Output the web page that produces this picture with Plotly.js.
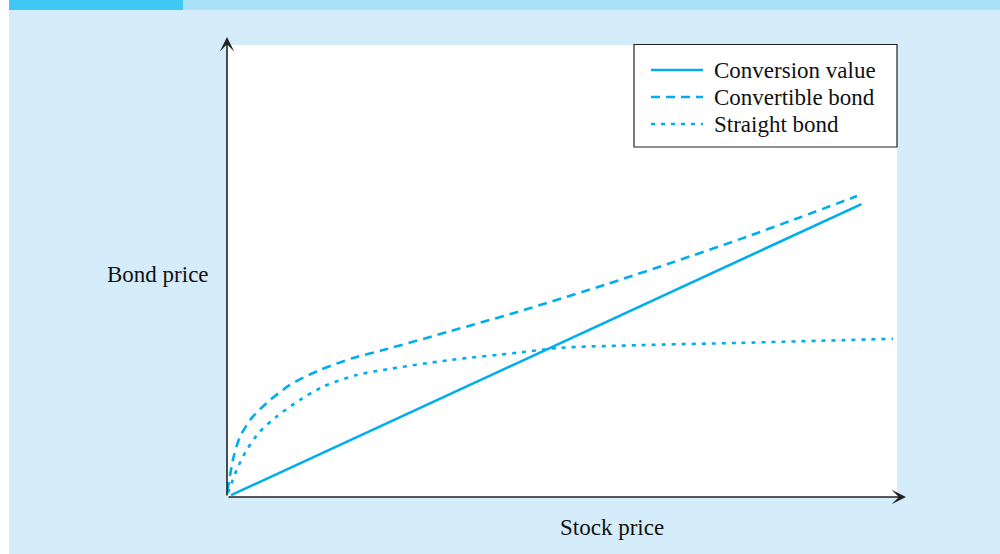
<!DOCTYPE html>
<html>
<head>
<meta charset="utf-8">
<script src="https://cdn.plot.ly/plotly-3.0.1.min.js"></script>
<style>
  html, body { margin: 0; padding: 0; background: #ffffff; }
  #chart { width: 1000px; height: 554px; }
</style>
</head>
<body>
<div id="chart"></div>
<script>
// Stock price (x) and bond price (y), arbitrary units 0-100
const conversionX = [0.6, 94.7];
const conversionY = [0.4, 64.8];

const convertibleX = [0.07, 0.94, 1.94, 3.69, 5.93, 9.40, 13.88, 18.81, 23.28, 33.28, 43.24, 46.72, 56.67, 66.57, 76.57, 85.52, 94.03];
const convertibleY = [1.3, 8.6, 13.3, 17.5, 20.8, 24.8, 28.1, 30.75, 32.5, 36.66, 40.88, 42.46, 47.08, 51.95, 57.05, 61.86, 66.59];

const straightX = [0.15, 1.45, 2.94, 4.93, 7.42, 10.90, 14.33, 19.36, 23.28, 33.28, 43.24, 49.70, 61.64, 76.57, 99.40];
const straightY = [0.9, 6.0, 10.4, 14.5, 17.8, 21.5, 24.4, 27.0, 28.1, 30.3, 31.9, 33.0, 33.6, 34.1, 35.0];

const seriesNames = ['Conversion value', 'Convertible bond', 'Straight bond'];
const xLabel = 'Stock price';
const yLabel = 'Bond price';

const lineColor = '#00aeef';
const serif = 'Liberation Serif, Times New Roman, serif';

const traces = [
  { x: conversionX, y: conversionY, name: seriesNames[0], mode: 'lines',
    line: { color: lineColor, width: 2.6 } },
  { x: convertibleX, y: convertibleY, name: seriesNames[1], mode: 'lines',
    line: { color: lineColor, width: 2.6, dash: '9px,6px', shape: 'spline', smoothing: 0.8 } },
  { x: straightX, y: straightY, name: seriesNames[2], mode: 'lines',
    line: { color: lineColor, width: 2.6, dash: '4px,6px', shape: 'spline', smoothing: 0.8 } }
];

// pixel -> paper helpers (plot area 227..897 x 45..497)
const px = p => (p - 227) / 670;
const py = p => (497 - p) / 452;

const shapes = [
  // white left strip
  { type: 'rect', xref: 'paper', yref: 'paper', x0: px(0), x1: px(9), y0: py(560), y1: py(-5),
    fillcolor: '#ffffff', line: { width: 0 }, layer: 'below' },
  // top light band
  { type: 'rect', xref: 'paper', yref: 'paper', x0: px(183), x1: px(1005), y0: py(10), y1: py(-5),
    fillcolor: '#aae0f8', line: { width: 0 }, layer: 'below' },
  // top dark stripe
  { type: 'rect', xref: 'paper', yref: 'paper', x0: px(9), x1: px(183), y0: py(10), y1: py(-5),
    fillcolor: '#40c8f4', line: { width: 0 }, layer: 'below' },
  // legend box
  { type: 'rect', xref: 'paper', yref: 'paper', x0: px(634), x1: px(897), y0: py(147), y1: py(44.5),
    fillcolor: '#ffffff', line: { color: '#222222', width: 1.2 } }
];

const legendRows = [70, 97, 124];
const legendDash = ['solid', '9px,6px', '4px,6px'];
const annotations = [];
legendRows.forEach((r, i) => {
  shapes.push({ type: 'line', xref: 'paper', yref: 'paper', x0: px(651), x1: px(703), y0: py(r), y1: py(r),
    line: { color: lineColor, width: 2.6, dash: legendDash[i] } });
  annotations.push({ xref: 'paper', yref: 'paper', x: px(712), y: py(r + 0.5), xanchor: 'left', yanchor: 'middle',
    text: seriesNames[i], showarrow: false, font: { family: serif, size: 23, color: '#111111' } });
});

// axis arrows
annotations.push({ xref: 'paper', yref: 'paper', x: 0, y: py(37), ax: 0, ay: 460, axref: 'pixel', ayref: 'pixel',
  text: '', showarrow: true, arrowhead: 3, arrowsize: 1.5, arrowwidth: 1.6, arrowcolor: '#222222', standoff: 0 });
annotations.push({ xref: 'paper', yref: 'paper', x: px(906), y: 0, ax: -679, ay: 0, axref: 'pixel', ayref: 'pixel',
  text: '', showarrow: true, arrowhead: 3, arrowsize: 1.5, arrowwidth: 1.6, arrowcolor: '#222222', standoff: 0 });

// axis labels
annotations.push({ xref: 'paper', yref: 'paper', x: px(158), y: py(274), xanchor: 'center', yanchor: 'middle',
  text: yLabel, showarrow: false, font: { family: serif, size: 23, color: '#111111' } });
annotations.push({ xref: 'paper', yref: 'paper', x: px(612), y: py(527), xanchor: 'center', yanchor: 'middle',
  text: xLabel, showarrow: false, font: { family: serif, size: 23, color: '#111111' } });

const layout = {
  width: 1000, height: 554,
  margin: { l: 227, r: 103, t: 45, b: 57, pad: 0 },
  paper_bgcolor: '#d5edfa',
  plot_bgcolor: '#ffffff',
  showlegend: false,
  xaxis: { range: [0, 100], showgrid: false, zeroline: false, showline: false, showticklabels: false, ticks: '', fixedrange: true },
  yaxis: { range: [0, 100], showgrid: false, zeroline: false, showline: false, showticklabels: false, ticks: '', fixedrange: true },
  shapes: shapes,
  annotations: annotations
};

Plotly.newPlot('chart', traces, layout, { displayModeBar: false, staticPlot: true });
</script>
</body>
</html>
